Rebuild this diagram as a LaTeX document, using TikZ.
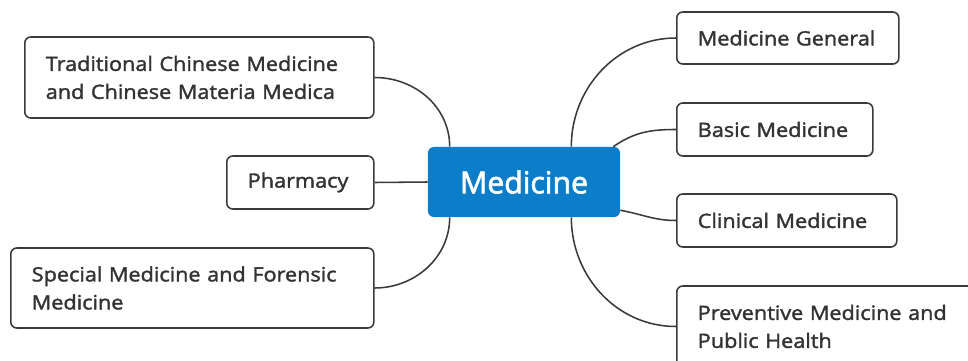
\documentclass[tikz,border=0pt]{standalone}
\usepackage{fontspec}
\setmainfont{Open Sans}[FakeBold=1.8, FakeStretch=1.1]
\newfontfamily\topicfont{Open Sans}[FakeBold=2.2]
\usepackage{xcolor}
\usepackage{tikz}
\usetikzlibrary{positioning,calc}

\definecolor{topicblue}{RGB}{12,125,200}
\definecolor{edgegray}{RGB}{58,58,58}
\definecolor{textgray}{RGB}{51,51,51}

\begin{document}
\begin{tikzpicture}[x=0.025cm, y=-0.025cm,
    topic/.style={fill=topicblue, rounded corners=0.15cm, minimum width=4.8cm,
        minimum height=1.75cm, text=white, font=\topicfont\fontsize{21.5}{26}\selectfont},
    leaf/.style={draw=edgegray, line width=1.1pt, rounded corners=0.15cm, anchor=west,
        align=left, inner xsep=0.525cm, inner ysep=0pt, text=textgray,
        font=\fontsize{14}{19.9}\selectfont},
    branch/.style={draw=edgegray, line width=1.1pt}]
    \useasboundingbox (0,0) rectangle (968,361);

    % Central topic
    \node[topic] (center) at (524,182) {Medicine};

    % Right branches
    \node[leaf, text width=4.5cm, minimum height=1.3cm] (general) at (676,38) {Medicine General};
    \node[leaf, text width=3.85cm, minimum height=1.325cm] (basic) at (676,129.5) {Basic Medicine};
    \node[leaf, text width=4.45cm, minimum height=1.325cm] (clinical) at (676,220.5) {Clinical Medicine};
    \node[leaf, text width=6.5cm, minimum height=2.025cm] (preventive) at (676,326.5)
        {Preventive Medicine and\\Public Health};

    % Left branches
    \node[leaf, text width=7.675cm, minimum height=2.025cm] (tcm) at (24,77.5)
        {Traditional Chinese Medicine\\and Chinese Materia Medica};
    \node[leaf, text width=2.625cm, minimum height=1.325cm] (pharmacy) at (226,182.5) {Pharmacy};
    \node[leaf, text width=8.025cm, minimum height=2cm] (forensic) at (10,288)
        {Special Medicine and Forensic\\Medicine};

    % Connectors
    \draw[branch] ($(center.north east)+(-49,0)$) to[out=90, in=180] (general.west);
    \draw[branch] ($(center.north east)+(-7,0)$) to[out=35, in=180] (basic.west);
    \draw[branch] ($(center.south east)+(0,-7)$) to[out=-10, in=180] (clinical.west);
    \draw[branch] ($(center.south east)+(-49,0)$) to[out=-90, in=180] (preventive.west);
    \draw[branch] (tcm.east) to[out=0, in=90] ($(center.north west)+(22,0)$);
    \draw[branch] (pharmacy.east) -- (center.west);
    \draw[branch] (forensic.east) to[out=0, in=-90] ($(center.south west)+(22,0)$);
\end{tikzpicture}
\end{document}
